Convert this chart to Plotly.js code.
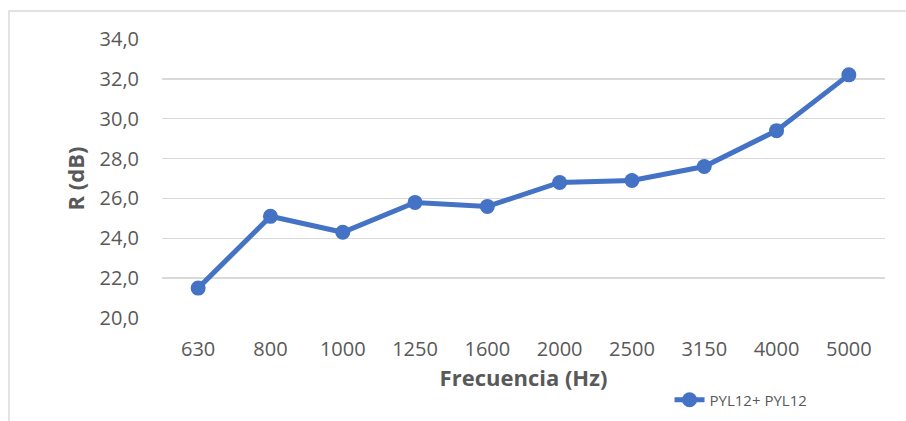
<!DOCTYPE html>
<html>
<head>
<meta charset="utf-8">
<script src="https://cdn.plot.ly/plotly-3.0.1.min.js"></script>
<style>html,body{margin:0;padding:0;background:#fff;}#chart{width:906px;height:421px;}</style>
</head>
<body>
<div id="chart"></div>
<script>
var frequencies = ["630", "800", "1000", "1250", "1600", "2000", "2500", "3150", "4000", "5000"];
var rValues = [21.5, 25.1, 24.3, 25.8, 25.6, 26.8, 26.9, 27.6, 29.4, 32.2];
var seriesName = "PYL12+ PYL12";
var yTicks = [20, 22, 24, 26, 28, 30, 32, 34];
var yTickLabels = ["20,0", "22,0", "24,0", "26,0", "28,0", "30,0", "32,0", "34,0"];

var trace = {
  x: frequencies,
  y: rValues,
  type: "scatter",
  mode: "lines+markers",
  name: seriesName,
  line: {color: "#4472C4", width: 5},
  marker: {color: "#4472C4", size: 15}
};

var layout = {
  width: 906, height: 421,
  margin: {l: 162, r: 21, t: 39, b: 103, autoexpand: false},
  paper_bgcolor: "#ffffff",
  plot_bgcolor: "#ffffff",
  font: {family: "Open Sans, sans-serif", color: "#595959"},
  showlegend: true,
  legend: {
    x: 0.702, y: -0.294, xanchor: "left", yanchor: "middle",
    orientation: "h",
    font: {size: 15, color: "#595959"},
    bgcolor: "rgba(0,0,0,0)"
  },
  xaxis: {
    type: "category",
    range: [-0.5, frequencies.length - 0.5],
    showgrid: false, zeroline: false, showline: false,
    ticks: "",
    tickfont: {size: 20, color: "#595959"},
    ticklabelstandoff: 17,
    title: {text: "Frecuencia (Hz)", font: {size: 22, color: "#595959", weight: "bold"}, standoff: 0}
  },
  yaxis: {
    range: [20, 34],
    tickvals: yTicks,
    ticktext: yTickLabels,
    showgrid: true, gridcolor: "#d9d9d9", gridwidth: 1.3,
    zeroline: false, showline: false, ticks: "",
    tickfont: {size: 20, color: "#595959"},
    ticklabelstandoff: 22,
    title: {text: "R (dB)", font: {size: 22, color: "#595959", weight: "bold"}, standoff: 8}
  },
  shapes: [{
    type: "rect", xref: "paper", yref: "paper",
    x0: -0.2116, x1: 1.04, y0: -0.39, y1: 1.1004,
    line: {color: "#d9d9d9", width: 1.5},
    fillcolor: "rgba(0,0,0,0)", layer: "below"
  }]
};

Plotly.newPlot("chart", [trace], layout, {displayModeBar: false, staticPlot: true});
</script>
</body>
</html>
